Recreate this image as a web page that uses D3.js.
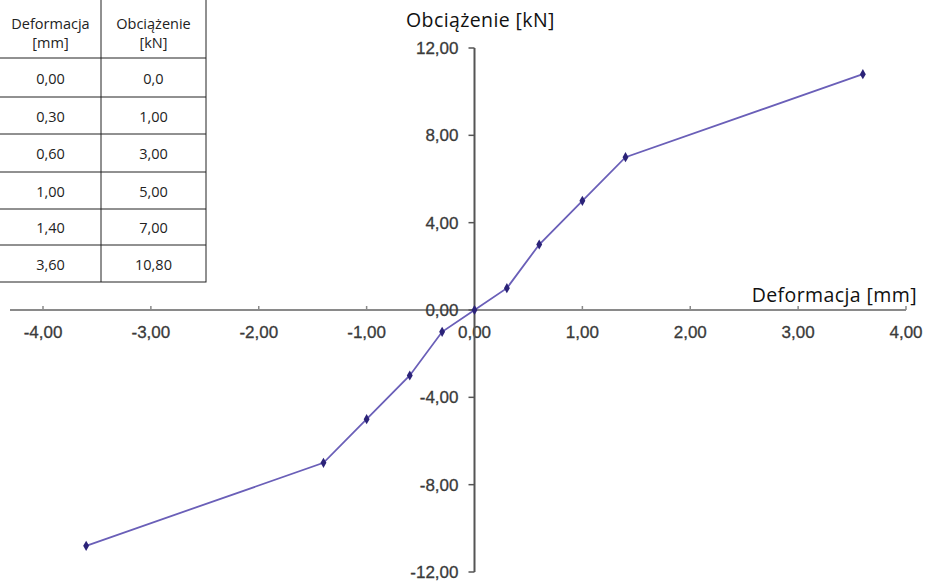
<!DOCTYPE html>
<html>
<head>
<meta charset="utf-8">
<script src="https://cdn.jsdelivr.net/npm/d3@7"></script>
<style>
  body { margin: 0; background: #fff; }
  svg { display: block; }
  .tick-label { font-family: "Liberation Sans", Arial, sans-serif; font-size: 17px; fill: #3a3a3a; stroke: #3a3a3a; stroke-width: 0.3px; }
  .title { font-family: "Open Sans", sans-serif; font-size: 19.5px; fill: #111; letter-spacing: 0.4px; }
  .cell { font-family: "Open Sans", sans-serif; font-size: 14.5px; fill: #222; }
</style>
</head>
<body>
<svg id="chart"></svg>
<script>
// Set dimensions
var width = 928,
    height = 582;

// Data (positive branch from the table, mirrored for the negative branch)
var deformacja = [0.00, 0.30, 0.60, 1.00, 1.40, 3.60];
var obciazenie = [0.0, 1.00, 3.00, 5.00, 7.00, 10.80];
var deformacjaLabels = ["0,00", "0,30", "0,60", "1,00", "1,40", "3,60"];
var obciazenieLabels = ["0,0", "1,00", "3,00", "5,00", "7,00", "10,80"];
var xTicks = [-4, -3, -2, -1, 0, 1, 2, 3, 4];
var yTicks = [12, 8, 4, 0, -4, -8, -12];

var points = [];
for (var i = deformacja.length - 1; i > 0; i--) {
    points.push([-deformacja[i], -obciazenie[i]]);
}
for (var j = 0; j < deformacja.length; j++) {
    points.push([deformacja[j], obciazenie[j]]);
}

// "1,00" style labels with a plain hyphen for negatives
var fmt = function(v) { return v.toFixed(2).replace(".", ","); };

// Scales
var x = d3.scaleLinear().domain([-4, 4]).range([43, 906]);
var y = d3.scaleLinear().domain([-12, 12]).range([572, 48]);

var svg = d3.select("#chart")
    .attr("width", width)
    .attr("height", height);

// X axis
svg.append("line")
    .attr("x1", 10).attr("x2", x(4))
    .attr("y1", y(0)).attr("y2", y(0))
    .attr("stroke", "#8a8a8a")
    .attr("stroke-width", 2);

svg.selectAll(".xtick")
    .data(xTicks)
    .enter()
    .append("line")
    .attr("x1", function(d) { return x(d); })
    .attr("x2", function(d) { return x(d); })
    .attr("y1", y(0) - 4)
    .attr("y2", y(0))
    .attr("stroke", "#8a8a8a")
    .attr("stroke-width", 1.5);

svg.selectAll(".xlabel")
    .data(xTicks)
    .enter()
    .append("text")
    .attr("class", "tick-label")
    .attr("x", function(d) { return x(d); })
    .attr("y", y(0) + 28)
    .attr("text-anchor", "middle")
    .text(function(d) { return fmt(d); });

// Y axis
svg.append("line")
    .attr("x1", x(0)).attr("x2", x(0))
    .attr("y1", y(12)).attr("y2", y(-12))
    .attr("stroke", "#555")
    .attr("stroke-width", 2);

svg.selectAll(".ytick")
    .data(yTicks)
    .enter()
    .append("line")
    .attr("x1", x(0) - 6)
    .attr("x2", x(0))
    .attr("y1", function(d) { return y(d); })
    .attr("y2", function(d) { return y(d); })
    .attr("stroke", "#555")
    .attr("stroke-width", 1.5);

svg.selectAll(".ylabel")
    .data(yTicks)
    .enter()
    .append("text")
    .attr("class", "tick-label")
    .attr("x", x(0) - 16)
    .attr("y", function(d) { return y(d) + 6; })
    .attr("text-anchor", "end")
    .text(function(d) { return fmt(d); });

// Axis titles
svg.append("text")
    .attr("class", "title")
    .attr("x", 406)
    .attr("y", 27)
    .text("Obciążenie [kN]");

svg.append("text")
    .attr("class", "title")
    .attr("x", 917)
    .attr("y", 302)
    .attr("text-anchor", "end")
    .text("Deformacja [mm]");

// Line
var line = d3.line()
    .x(function(d) { return x(d[0]); })
    .y(function(d) { return y(d[1]); });

svg.append("path")
    .datum(points)
    .attr("d", line)
    .attr("fill", "none")
    .attr("stroke", "#6a5fb8")
    .attr("stroke-width", 1.8);

svg.selectAll(".pt")
    .data(points)
    .enter()
    .append("path")
    .attr("d", d3.symbol().type(d3.symbolDiamond).size(30))
    .attr("transform", function(d) { return "translate(" + x(d[0]) + "," + y(d[1]) + ")"; })
    .attr("fill", "#2b2378");

// Table
var colX = [0, 101, 206];
var rowY = [0, 58, 97, 134, 172, 209, 245, 282];
var table = svg.append("g").attr("id", "table");

table.append("rect")
    .attr("x", -1).attr("y", -1)
    .attr("width", colX[2] + 1)
    .attr("height", rowY[rowY.length - 1] + 1)
    .attr("fill", "#fff")
    .attr("stroke", "#222")
    .attr("stroke-width", 1);

table.append("line")
    .attr("x1", colX[1]).attr("x2", colX[1])
    .attr("y1", 0).attr("y2", rowY[rowY.length - 1])
    .attr("stroke", "#222");

table.selectAll(".hline")
    .data(rowY.slice(1, -1))
    .enter()
    .append("line")
    .attr("x1", 0).attr("x2", colX[2])
    .attr("y1", function(d) { return d; })
    .attr("y2", function(d) { return d; })
    .attr("stroke", "#222");

var headers = [["Deformacja", "[mm]"], ["Obciążenie", "[kN]"]];
headers.forEach(function(h, c) {
    var cx = (colX[c] + colX[c + 1]) / 2;
    h.forEach(function(t, k) {
        table.append("text")
            .attr("class", "cell")
            .attr("x", cx)
            .attr("y", 29 + k * 19)
            .attr("text-anchor", "middle")
            .text(t);
    });
});

[deformacjaLabels, obciazenieLabels].forEach(function(col, c) {
    var cx = (colX[c] + colX[c + 1]) / 2;
    table.selectAll(".c" + c)
        .data(col)
        .enter()
        .append("text")
        .attr("class", "cell")
        .attr("x", cx)
        .attr("y", function(d, i) { return (rowY[i + 1] + rowY[i + 2]) / 2 + 6; })
        .attr("text-anchor", "middle")
        .text(function(d) { return d; });
});
</script>
</body>
</html>
